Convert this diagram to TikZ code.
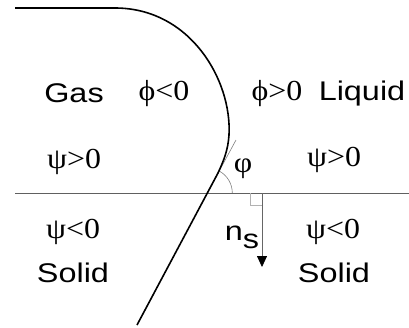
\documentclass[tikz,border=0pt]{standalone}
\usepackage{amsmath,amssymb}
\usepackage{fontspec}
\setmainfont{Liberation Sans}
\newfontfamily\greekfont{Liberation Serif}
\usepackage{tikz}
\usetikzlibrary{arrows.meta,positioning}

\begin{document}
\begin{tikzpicture}[x=1pt, y=-1pt,
  word/.style={font=\fontsize{27}{30}\selectfont, xscale=1.2, anchor=base, inner sep=0pt},
  sign/.style={font=\greekfont\fontsize{29}{32}\selectfont, xscale=1.1, anchor=base, inner sep=0pt}]
\useasboundingbox (0,0) rectangle (409,327);

% phase labels
\node (gas) [word] at (74,102) {Gas};
\node (liquid) [word] at (362,100) {Liquid};
\node (solidL) [word] at (73,282) {Solid};
\node (solidR) [word] at (334,282) {Solid};
\node (ns) [word] at (242,240) {n\raisebox{-8pt}{s}};

% level set signs
\node (phiL) [sign] at (164,100) {ϕ<0};
\node (phiR) [sign] at (277,100) {ϕ>0};
\node (psiUL) [sign] at (74,168) {ψ>0};
\node (psiUR) [sign] at (334,166) {ψ>0};
\node (psiDL) [sign] at (73,238) {ψ<0};
\node (psiDR) [sign] at (333,238) {ψ<0};
\node (angle) [sign] at (243,172) {φ};

\coordinate (wallL) at (15,193);
\coordinate (wallR) at (409,193);
\coordinate (foot) at (207.3,193);
\coordinate (tan) at (236,140);
\coordinate (top) at (15,8);
\coordinate (bottom) at (137,325);
\coordinate (nTop) at (262,193);
\coordinate (nTip) at (262,267);

\draw[gray!75!black, line width=0.9pt] (wallL) -- (wallR);
\draw[gray, line width=0.6pt] (foot) -- (tan);
\draw[gray, line width=0.6pt] (foot) ++(25,0) arc[start angle=0, end angle=-62, radius=25];
\draw[gray!60, line width=0.9pt] (250.5,193) |- (nTop |- 0,205.5);
\draw[gray!80!black, line width=0.8pt, -{Triangle[width=10pt, length=11pt, color=black]}] (nTop) -- (nTip);

% interface
\draw[line width=1.6pt] (top) -- (115,8) .. controls (190,8) and (232,80) .. (229,135)
  .. controls (228,150) and (224,160) .. (218,173) -- (bottom);
\end{tikzpicture}
\end{document}
